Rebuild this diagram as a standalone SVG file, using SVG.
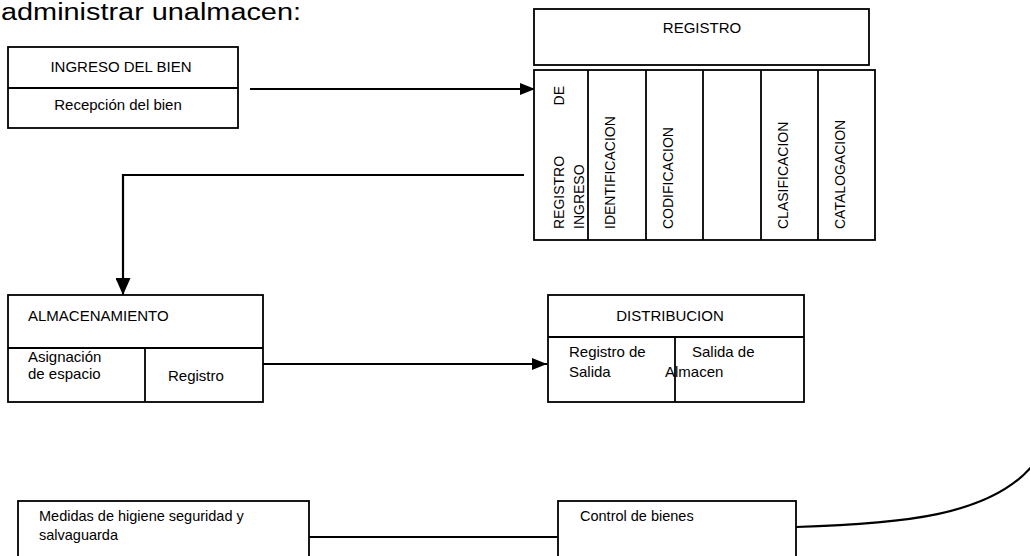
<svg xmlns="http://www.w3.org/2000/svg" width="1030" height="556" viewBox="0 0 1030 556">
<defs>
<style>
text{font-family:"Liberation Sans",Arial,sans-serif;fill:#000}
.t{font-size:15px}
.v{font-size:14px}
.b{font-size:14.5px}
.box{fill:#fff;stroke:#000;stroke-width:1.8}
.ln{stroke:#000;stroke-width:1.8;fill:none}
.con{stroke:#000;stroke-width:2.2;fill:none}
</style>
<marker id="ah" markerUnits="userSpaceOnUse" markerWidth="15" markerHeight="12" refX="15" refY="6" orient="auto" viewBox="0 0 15 12">
<path d="M0,0 L15,6 L0,12 z" fill="#000"/>
</marker>
<marker id="ahd" markerUnits="userSpaceOnUse" markerWidth="17" markerHeight="15" refX="17" refY="7.5" orient="auto" viewBox="0 0 17 15">
<path d="M0,0 L17,7.5 L0,15 z" fill="#000"/>
</marker>
</defs>
<rect width="1030" height="556" fill="#fff"/>
<text x="1" y="20" font-size="23" textLength="300" lengthAdjust="spacingAndGlyphs">administrar unalmacen:</text>

<g id="connectors">
<path class="con" d="M250 89 H535" marker-end="url(#ah)"/>
<path class="con" d="M524 175 H123 V295" marker-end="url(#ahd)"/>
<path class="con" d="M263 364 H547" marker-end="url(#ah)"/>
<path class="con" d="M309 537 H558"/>
<path class="con" d="M796 527 C900 524 990 516 1032 466"/>
</g>

<g id="ingreso">
<rect class="box" x="8" y="47" width="230" height="81"/>
<line class="ln" x1="8" y1="88" x2="238" y2="88"/>
<text class="t" x="121" y="72" text-anchor="middle">INGRESO DEL BIEN</text>
<text class="t" x="118" y="110" text-anchor="middle">Recepción del bien</text>
</g>

<g id="registro">
<rect class="box" x="534" y="9" width="335" height="56"/>
<text class="t" x="702" y="33" text-anchor="middle">REGISTRO</text>
</g>

<g id="registro-columnas">
<rect class="box" x="534" y="70" width="341" height="170"/>
<line class="ln" x1="588" y1="70" x2="588" y2="240"/>
<line class="ln" x1="646" y1="70" x2="646" y2="240"/>
<line class="ln" x1="703" y1="70" x2="703" y2="240"/>
<line class="ln" x1="761" y1="70" x2="761" y2="240"/>
<line class="ln" x1="818" y1="70" x2="818" y2="240"/>
<text class="v" transform="translate(564,229) rotate(-90)">REGISTRO</text>
<text class="v" transform="translate(564,86) rotate(-90)" text-anchor="end">DE</text>
<text class="v" transform="translate(584,229) rotate(-90)">INGRESO</text>
<text class="v" transform="translate(615,229) rotate(-90)">IDENTIFICACION</text>
<text class="v" transform="translate(673,229) rotate(-90)">CODIFICACION</text>
<text class="v" transform="translate(788,229) rotate(-90)">CLASIFICACION</text>
<text class="v" transform="translate(845,229) rotate(-90)">CATALOGACION</text>
</g>

<g id="almacenamiento">
<rect class="box" x="8" y="295" width="255" height="107"/>
<line class="ln" x1="8" y1="348" x2="263" y2="348"/>
<line class="ln" x1="145" y1="348" x2="145" y2="402"/>
<text class="t" x="28" y="321">ALMACENAMIENTO</text>
<text class="t" x="28" y="362">Asignación</text>
<text class="t" x="28" y="379">de espacio</text>
<text class="t" x="168" y="381">Registro</text>
</g>

<g id="distribucion">
<rect class="box" x="548" y="295" width="256" height="107"/>
<line class="ln" x1="548" y1="337" x2="804" y2="337"/>
<line class="ln" x1="675" y1="337" x2="675" y2="402"/>
<text class="t" x="670" y="321" text-anchor="middle">DISTRIBUCION</text>
<text class="t" x="569" y="357">Registro de</text>
<text class="t" x="569" y="377">Salida</text>
<text class="t" x="692" y="357">Salida de</text>
<text class="t" x="665" y="377">Almacen</text>
</g>

<g id="medidas">
<rect class="box" x="18" y="501" width="291" height="70"/>
<text class="b" x="39" y="521">Medidas de higiene seguridad y</text>
<text class="b" x="39" y="540">salvaguarda</text>
</g>

<g id="control">
<rect class="box" x="558" y="501" width="238" height="70"/>
<text class="b" x="580" y="521">Control de bienes</text>
</g>
</svg>
